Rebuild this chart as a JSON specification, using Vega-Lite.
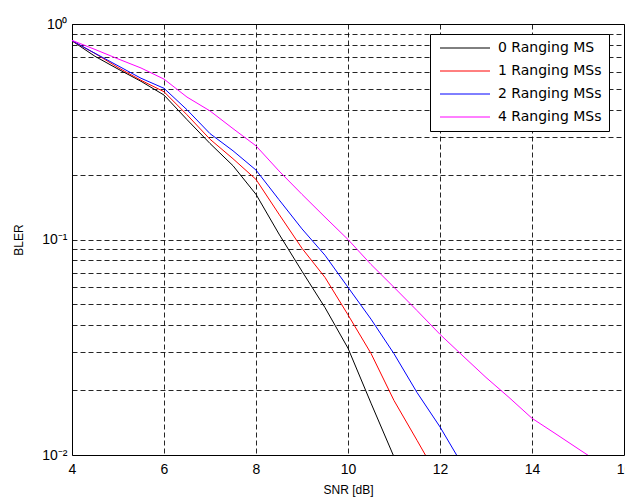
{
  "$schema": "https://vega.github.io/schema/vega-lite/v6.json",
  "width": 552,
  "height": 431,
  "autosize": "none",
  "padding": {"left": 72, "top": 24, "right": 1, "bottom": 45},
  "background": "white",
  "config": {
    "view": {"stroke": "black", "strokeWidth": 1},
    "font": "Liberation Sans",
    "axis": {
      "labelFont": "Liberation Sans",
      "titleFont": "Liberation Sans",
      "labelFontSize": 14,
      "titleFontSize": 12,
      "labelColor": "black",
      "titleColor": "black",
      "titleFontWeight": "normal",
      "grid": true,
      "gridColor": "black",
      "gridDash": [5, 3],
      "gridWidth": 1,
      "gridOpacity": 0.85,
      "ticks": false,
      "domain": false
    }
  },
  "data": {
    "values": [
      {"snr": 4, "bler": 0.835, "series": "0 Ranging MS"},
      {"snr": 4.5, "bler": 0.708, "series": "0 Ranging MS"},
      {"snr": 5, "bler": 0.618, "series": "0 Ranging MS"},
      {"snr": 5.5, "bler": 0.542, "series": "0 Ranging MS"},
      {"snr": 6, "bler": 0.468, "series": "0 Ranging MS"},
      {"snr": 6.5, "bler": 0.36, "series": "0 Ranging MS"},
      {"snr": 7, "bler": 0.279, "series": "0 Ranging MS"},
      {"snr": 7.5, "bler": 0.22, "series": "0 Ranging MS"},
      {"snr": 8, "bler": 0.162, "series": "0 Ranging MS"},
      {"snr": 8.5, "bler": 0.106, "series": "0 Ranging MS"},
      {"snr": 9, "bler": 0.0712, "series": "0 Ranging MS"},
      {"snr": 9.5, "bler": 0.0483, "series": "0 Ranging MS"},
      {"snr": 10, "bler": 0.0313, "series": "0 Ranging MS"},
      {"snr": 10.5, "bler": 0.0174, "series": "0 Ranging MS"},
      {"snr": 11, "bler": 0.0098, "series": "0 Ranging MS"},

      {"snr": 4, "bler": 0.835, "series": "1 Ranging MSs"},
      {"snr": 4.5, "bler": 0.73, "series": "1 Ranging MSs"},
      {"snr": 5, "bler": 0.628, "series": "1 Ranging MSs"},
      {"snr": 5.5, "bler": 0.548, "series": "1 Ranging MSs"},
      {"snr": 6, "bler": 0.485, "series": "1 Ranging MSs"},
      {"snr": 6.5, "bler": 0.379, "series": "1 Ranging MSs"},
      {"snr": 7, "bler": 0.292, "series": "1 Ranging MSs"},
      {"snr": 7.5, "bler": 0.237, "series": "1 Ranging MSs"},
      {"snr": 8, "bler": 0.19, "series": "1 Ranging MSs"},
      {"snr": 8.5, "bler": 0.131, "series": "1 Ranging MSs"},
      {"snr": 9, "bler": 0.091, "series": "1 Ranging MSs"},
      {"snr": 9.5, "bler": 0.0667, "series": "1 Ranging MSs"},
      {"snr": 10, "bler": 0.0447, "series": "1 Ranging MSs"},
      {"snr": 10.5, "bler": 0.0296, "series": "1 Ranging MSs"},
      {"snr": 11, "bler": 0.0179, "series": "1 Ranging MSs"},
      {"snr": 11.5, "bler": 0.0117, "series": "1 Ranging MSs"},
      {"snr": 12, "bler": 0.0076, "series": "1 Ranging MSs"},

      {"snr": 4, "bler": 0.837, "series": "2 Ranging MSs"},
      {"snr": 4.5, "bler": 0.731, "series": "2 Ranging MSs"},
      {"snr": 5, "bler": 0.64, "series": "2 Ranging MSs"},
      {"snr": 5.5, "bler": 0.56, "series": "2 Ranging MSs"},
      {"snr": 6, "bler": 0.503, "series": "2 Ranging MSs"},
      {"snr": 6.5, "bler": 0.4, "series": "2 Ranging MSs"},
      {"snr": 7, "bler": 0.31, "series": "2 Ranging MSs"},
      {"snr": 7.5, "bler": 0.258, "series": "2 Ranging MSs"},
      {"snr": 8, "bler": 0.21, "series": "2 Ranging MSs"},
      {"snr": 8.5, "bler": 0.153, "series": "2 Ranging MSs"},
      {"snr": 9, "bler": 0.112, "series": "2 Ranging MSs"},
      {"snr": 9.5, "bler": 0.0845, "series": "2 Ranging MSs"},
      {"snr": 10, "bler": 0.06, "series": "2 Ranging MSs"},
      {"snr": 10.5, "bler": 0.0427, "series": "2 Ranging MSs"},
      {"snr": 11, "bler": 0.0295, "series": "2 Ranging MSs"},
      {"snr": 11.5, "bler": 0.0195, "series": "2 Ranging MSs"},
      {"snr": 12, "bler": 0.0135, "series": "2 Ranging MSs"},
      {"snr": 12.5, "bler": 0.0089, "series": "2 Ranging MSs"},

      {"snr": 4, "bler": 0.84, "series": "4 Ranging MSs"},
      {"snr": 4.5, "bler": 0.762, "series": "4 Ranging MSs"},
      {"snr": 5, "bler": 0.689, "series": "4 Ranging MSs"},
      {"snr": 5.5, "bler": 0.625, "series": "4 Ranging MSs"},
      {"snr": 6, "bler": 0.555, "series": "4 Ranging MSs"},
      {"snr": 6.5, "bler": 0.458, "series": "4 Ranging MSs"},
      {"snr": 7, "bler": 0.395, "series": "4 Ranging MSs"},
      {"snr": 7.5, "bler": 0.327, "series": "4 Ranging MSs"},
      {"snr": 8, "bler": 0.272, "series": "4 Ranging MSs"},
      {"snr": 8.5, "bler": 0.208, "series": "4 Ranging MSs"},
      {"snr": 9, "bler": 0.162, "series": "4 Ranging MSs"},
      {"snr": 9.5, "bler": 0.127, "series": "4 Ranging MSs"},
      {"snr": 10, "bler": 0.1, "series": "4 Ranging MSs"},
      {"snr": 10.5, "bler": 0.0766, "series": "4 Ranging MSs"},
      {"snr": 11, "bler": 0.06, "series": "4 Ranging MSs"},
      {"snr": 11.5, "bler": 0.0468, "series": "4 Ranging MSs"},
      {"snr": 12, "bler": 0.0363, "series": "4 Ranging MSs"},
      {"snr": 12.5, "bler": 0.0288, "series": "4 Ranging MSs"},
      {"snr": 13, "bler": 0.0229, "series": "4 Ranging MSs"},
      {"snr": 13.5, "bler": 0.0185, "series": "4 Ranging MSs"},
      {"snr": 14, "bler": 0.0148, "series": "4 Ranging MSs"},
      {"snr": 14.5, "bler": 0.0126, "series": "4 Ranging MSs"},
      {"snr": 15, "bler": 0.0107, "series": "4 Ranging MSs"},
      {"snr": 15.5, "bler": 0.0091, "series": "4 Ranging MSs"}
    ]
  },
  "mark": {"type": "line", "strokeWidth": 1, "clip": true},
  "encoding": {
    "x": {
      "field": "snr",
      "type": "quantitative",
      "scale": {"domain": [4, 16], "nice": false, "zero": false},
      "axis": {
        "title": "SNR [dB]",
        "values": [4, 6, 8, 10, 12, 14, 16],
        "labelPadding": 7,
        "labelOverlap": false,
        "labelBound": false,
        "labelFlush": false,
        "titlePadding": 8
      }
    },
    "y": {
      "field": "bler",
      "type": "quantitative",
      "scale": {"type": "log", "domain": [0.01, 1], "nice": false},
      "axis": {
        "title": "BLER",
        "values": [0.01, 0.02, 0.03, 0.04, 0.05, 0.06, 0.07, 0.08, 0.09, 0.1, 0.2, 0.3, 0.4, 0.5, 0.6, 0.7, 0.8, 0.9, 1],
        "labelExpr": "datum.value == 1 ? '10⁰' : datum.value == 0.1 ? '10⁻¹' : datum.value == 0.01 ? '10⁻²' : ''",
        "labelPadding": 5,
        "labelOverlap": false,
        "labelBound": false,
        "labelFlush": false,
        "titlePadding": 16
      }
    },
    "color": {
      "field": "series",
      "type": "nominal",
      "sort": ["0 Ranging MS", "1 Ranging MSs", "2 Ranging MSs", "4 Ranging MSs"],
      "scale": {
        "domain": ["0 Ranging MS", "1 Ranging MSs", "2 Ranging MSs", "4 Ranging MSs"],
        "range": ["#000000", "#ff0000", "#0000ff", "#ff00ff"]
      },
      "legend": {
        "title": null,
        "orient": "none",
        "legendX": 358,
        "legendY": 10,
        "symbolType": "M-5,0H5",
        "symbolSize": 100,
        "symbolStrokeWidth": 1,
        "symbolOffset": 21,
        "labelFont": "DejaVu Sans",
        "labelFontSize": 14,
        "labelColor": "black",
        "labelOffset": 26,
        "fillColor": "white",
        "strokeColor": "black",
        "padding": 7,
        "rowPadding": 9
      }
    }
  }
}
